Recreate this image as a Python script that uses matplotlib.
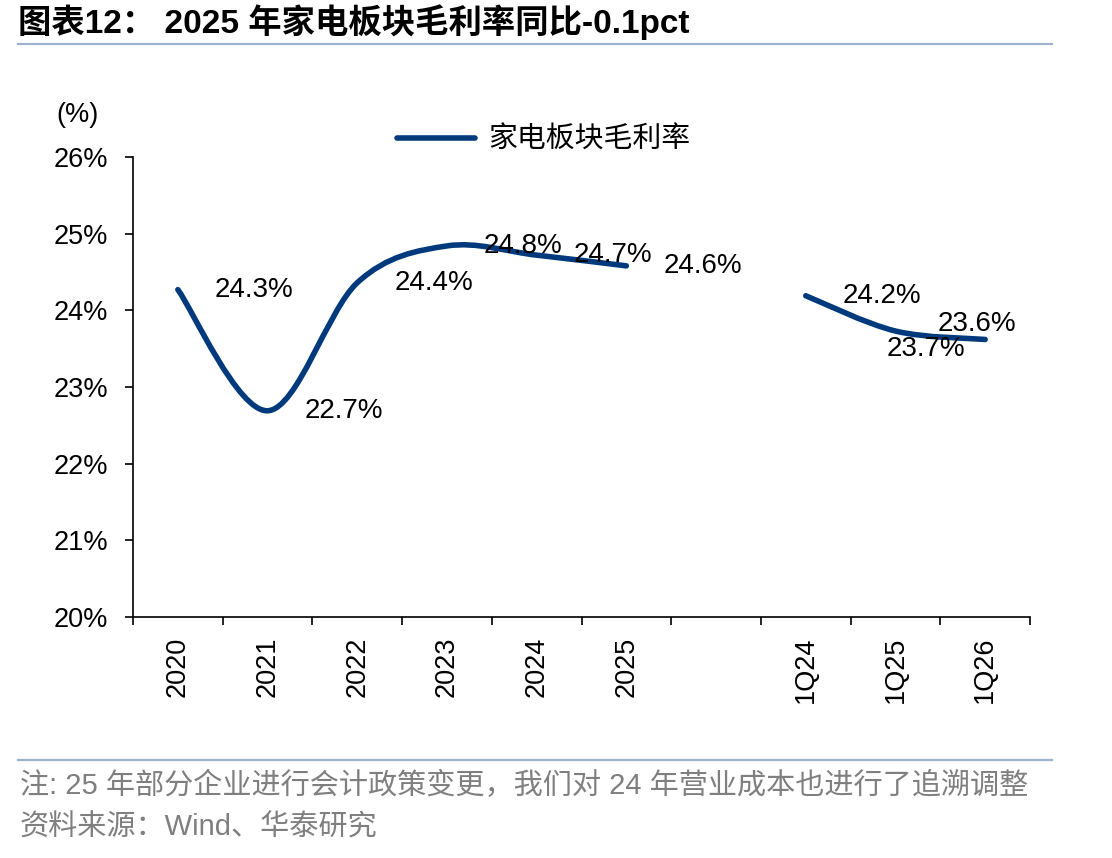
import numpy as np
import matplotlib
matplotlib.use("Agg")
import matplotlib.pyplot as plt
from matplotlib.path import Path
from matplotlib.patches import PathPatch
from matplotlib.lines import Line2D

plt.rcParams['font.family'] = ['Liberation Sans', 'Noto Sans CJK SC', 'DejaVu Sans']

# data
categories = ["2020", "2021", "2022", "2023", "2024", "2025", "", "1Q24", "1Q25", "1Q26"]
margin = [24.27, 22.69, 24.36, 24.84, 24.72, 24.58, np.nan, 24.19, 23.73, 23.62]
label_pos = ["right", "right", "right", "right", "right", "right", None, "right", "below", "above"]

title = "图表12： 2025 年家电板块毛利率同比-0.1pct"
series_name = "家电板块毛利率"
note = "注: 25 年部分企业进行会计政策变更，我们对 24 年营业成本也进行了追溯调整"
source = "资料来源：Wind、华泰研究"

line_color = "#003A7D"
rule_color = "#9DB3CC"


def smooth_path(xs, ys):
    # excel-like smoothed line: cubic bezier through the points
    pts = np.column_stack([xs, ys])
    n = len(pts)
    verts = [pts[0]]
    codes = [Path.MOVETO]
    for i in range(n - 1):
        p0 = pts[i - 1] if i > 0 else pts[i]
        p1 = pts[i]
        p2 = pts[i + 1]
        p3 = pts[i + 2] if i + 2 < n else pts[i + 1]
        c1 = p1 + (p2 - p0) / 6.0
        c2 = p2 - (p3 - p1) / 6.0
        verts += [c1, c2, p2]
        codes += [Path.CURVE4] * 3
    return Path(verts, codes)


fig = plt.figure(figsize=(11.12, 8.58), dpi=100)
ax = fig.add_axes([133 / 1112, 1 - 617 / 858, (1030 - 133) / 1112, (617 - 157) / 858])

x = np.arange(len(categories))
y = np.array(margin)

# split into segments at the gap
segs = []
cur = []
for xi, yi in zip(x, y):
    if np.isnan(yi):
        if cur:
            segs.append(cur)
        cur = []
    else:
        cur.append((xi, yi))
if cur:
    segs.append(cur)

for seg in segs:
    sx, sy = zip(*seg)
    patch = PathPatch(smooth_path(np.array(sx, float), np.array(sy, float)),
                      facecolor="none", edgecolor=line_color, lw=4,
                      capstyle="round", joinstyle="round", zorder=3)
    ax.add_patch(patch)

# data labels
for xi, yi, pos in zip(x, y, label_pos):
    if pos is None:
        continue
    if pos == "right":
        off = (55, 0)
    elif pos == "below":
        off = (22, -13)
    else:
        off = (-6, 11)
    ax.annotate(f"{yi:.1f}%", (xi, yi), xytext=off, textcoords="offset points",
                ha="center", va="center", fontsize=20, color="black", zorder=4)

ax.set_xlim(-0.5, len(categories) - 0.5)
ax.set_ylim(20, 26)
ax.set_yticks(np.arange(20, 27, 1))
ax.set_yticklabels([f"{v}%" for v in range(20, 27)])
ax.set_xticks(x)
ax.set_xticklabels(categories, rotation=90)
ax.set_xticks(np.arange(-0.5, len(categories), 1), minor=True)
ax.tick_params(axis="x", which="major", length=0, pad=14, labelsize=19.5)
ax.tick_params(axis="x", which="minor", length=6, width=1.2, direction="out")
ax.tick_params(axis="y", length=6, width=1.2, direction="out", pad=12, labelsize=19.5)

for s in ["top", "right"]:
    ax.spines[s].set_visible(False)
for s in ["left", "bottom"]:
    ax.spines[s].set_linewidth(1.2)

fig.text(78 / 1112, 1 - 115 / 858, "(%)", ha="center", va="center", fontsize=19.5)

handle = Line2D([], [], color=line_color, lw=4, solid_capstyle="round")
fig.legend([handle], [series_name], loc="center", bbox_to_anchor=(544 / 1112, 1 - 140 / 858),
           frameon=False, fontsize=20.8, handlelength=2.7, handletextpad=0.45)

# title and rules
fig.text(18 / 1112, 1 - 22 / 858, title, ha="left", va="center", fontsize=24, fontweight="bold")
fig.add_artist(Line2D([18 / 1112, 1052 / 1112], [1 - 44 / 858, 1 - 44 / 858], color=rule_color, lw=1.6))
fig.add_artist(Line2D([18 / 1112, 1052 / 1112], [1 - 760 / 858, 1 - 760 / 858], color=rule_color, lw=1.6))

fig.text(20 / 1112, 1 - 786 / 858, note, ha="left", va="center", fontsize=21, color="#7F7F7F")
fig.text(20 / 1112, 1 - 828 / 858, source, ha="left", va="center", fontsize=21, color="#7F7F7F")

fig.savefig("out.png", dpi=100)
